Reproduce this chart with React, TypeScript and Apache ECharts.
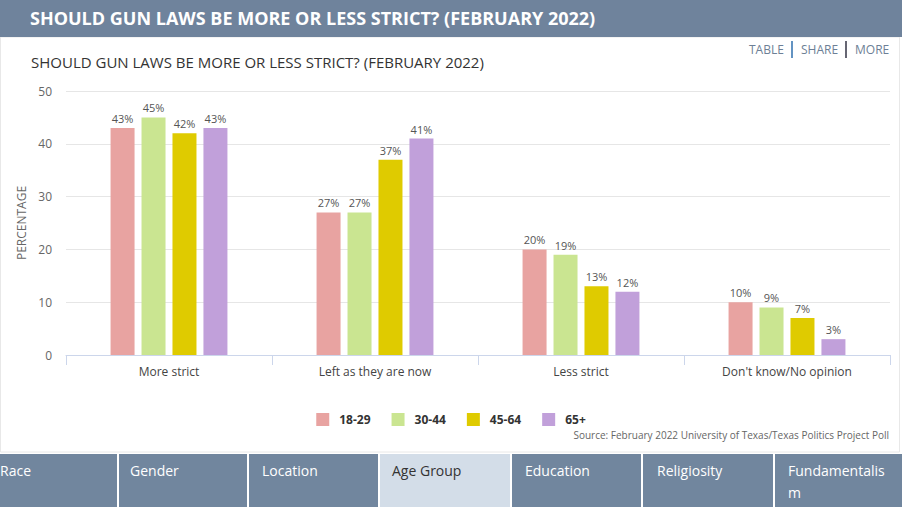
import React, { useEffect, useRef } from "react";
import * as echarts from "echarts";

const categories = ["More strict", "Left as they are now", "Less strict", "Don't know/No opinion"];
const seriesNames = ["18-29", "30-44", "45-64", "65+"];
const age18_29 = [43, 27, 20, 10];
const age30_44 = [45, 27, 19, 9];
const age45_64 = [42, 37, 13, 7];
const age65plus = [43, 41, 12, 3];
const colors = ["#e8a3a1", "#cae591", "#dfcb00", "#c1a0da"];
const tabs = ["Race", "Gender", "Location", "Age Group", "Education", "Religiosity", "Fundamentalism"];

const FONT = "'Open Sans', 'Noto Sans', sans-serif";

export default function App() {
  const ref = useRef<HTMLDivElement>(null);
  useEffect(() => {
    document.body.style.margin = "0";
    const chart = echarts.init(ref.current!, null, { renderer: "svg" });
    const values = [age18_29, age30_44, age45_64, age65plus];
    const tabX = [0, 119, 249, 380, 512, 643, 775, 902];
    const tabTextX = [0, 130, 262, 392, 525, 657, 788];
    const tabGraphics: any[] = [];
    tabs.forEach((t, i) => {
      const active = t === "Age Group";
      tabGraphics.push({
        type: "rect",
        shape: { x: tabX[i], y: 454, width: tabX[i + 1] - tabX[i] - (i < 6 ? 2 : 0), height: 60 },
        style: { fill: active ? "#d3dde8" : "#71869e" },
        silent: true,
      });
      const label = t === "Fundamentalism" ? "Fundamentalis\nm" : t;
      tabGraphics.push({
        type: "text",
        x: tabTextX[i],
        y: 459,
        style: {
          text: label,
          fill: active ? "#333333" : "#ffffff",
          font: `14px ${FONT}`,
          lineHeight: 22,
        },
      });
    });
    chart.setOption({
      animation: false,
      backgroundColor: "#ffffff",
      textStyle: { fontFamily: FONT },
      graphic: [
        { type: "rect", shape: { x: 0.5, y: 37, width: 899, height: 415 }, style: { fill: "none", stroke: "#e8e8e8", lineWidth: 1 }, silent: true },
        { type: "rect", shape: { x: 0, y: 0, width: 902, height: 37 }, style: { fill: "#6f839c" }, silent: true },
        {
          type: "text", x: 30, y: 18,
          style: { text: "SHOULD GUN LAWS BE MORE OR LESS STRICT? (FEBRUARY 2022)", fill: "#ffffff", font: `bold 18px ${FONT}`, verticalAlign: "middle" },
        },
        {
          type: "text", x: 31, y: 62,
          style: { text: "SHOULD GUN LAWS BE MORE OR LESS STRICT? (FEBRUARY 2022)", fill: "#333333", font: `15px ${FONT}`, verticalAlign: "middle" },
        },
        { type: "text", x: 749, y: 49, style: { text: "TABLE", fill: "#6d7f96", font: `12px ${FONT}`, verticalAlign: "middle" } },
        { type: "line", shape: { x1: 792, y1: 41, x2: 792, y2: 58 }, style: { stroke: "#2f6fae", lineWidth: 1.5 } },
        { type: "text", x: 801, y: 49, style: { text: "SHARE", fill: "#6d7f96", font: `12px ${FONT}`, verticalAlign: "middle" } },
        { type: "line", shape: { x1: 846, y1: 41, x2: 846, y2: 58 }, style: { stroke: "#333344", lineWidth: 1.5 } },
        { type: "text", x: 855, y: 49, style: { text: "MORE", fill: "#6d7f96", font: `12px ${FONT}`, verticalAlign: "middle" } },
        {
          type: "text", x: 889, y: 435,
          style: { text: "Source: February 2022 University of Texas/Texas Politics Project Poll", fill: "#666666", font: `10px ${FONT}`, align: "right", verticalAlign: "middle" },
        },
        ...tabGraphics,
      ],
      legend: {
        left: "center",
        top: 408,
        icon: "rect",
        itemWidth: 13,
        itemHeight: 13,
        itemGap: 21,
        data: seriesNames,
        textStyle: { color: "#333333", fontWeight: "bold", fontSize: 12, fontFamily: FONT, padding: [0, 0, 0, 5] },
      },
      grid: { left: 66, right: 12, top: 91, bottom: 152, containLabel: false },
      xAxis: {
        type: "category",
        data: categories,
        axisLine: { lineStyle: { color: "#ccd6eb" } },
        axisTick: { show: true, length: 10, lineStyle: { color: "#ccd6eb" } },
        axisLabel: { color: "#444444", fontSize: 12, margin: 10, fontFamily: FONT },
      },
      yAxis: {
        type: "value",
        min: 0,
        max: 50,
        interval: 10,
        name: "PERCENTAGE",
        nameLocation: "middle",
        nameRotate: 90,
        nameGap: 38,
        nameTextStyle: { color: "#666666", fontSize: 12, fontFamily: FONT },
        axisLabel: { color: "#666666", fontSize: 12, margin: 14, fontFamily: FONT },
        splitLine: { lineStyle: { color: "#e6e6e6" } },
        axisLine: { show: false },
        axisTick: { show: false },
      },
      series: seriesNames.map((name, i) => ({
        name,
        type: "bar",
        data: values[i],
        barWidth: 24,
        barGap: "29%",
        itemStyle: { color: colors[i] },
        label: {
          show: true,
          position: "top",
          distance: 4,
          formatter: "{c}%",
          color: "#555555",
          fontSize: 11,
          fontFamily: FONT,
        },
      })),
    });
    return () => chart.dispose();
  }, []);
  return <div ref={ref} style={{ width: 902, height: 507, position: "fixed", left: 0, top: 0 }} />;
}
